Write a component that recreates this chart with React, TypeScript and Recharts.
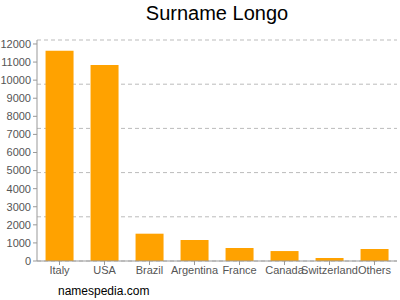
import { Bar, BarChart, CartesianGrid, XAxis, YAxis } from "recharts"

const countries = ["Italy", "USA", "Brazil", "Argentina", "France", "Canada", "Switzerland", "Others"]
const counts = [11630, 10840, 1510, 1160, 720, 550, 165, 665]
const yTicks = [0, 1000, 2000, 3000, 4000, 5000, 6000, 7000, 8000, 9000, 10000, 11000, 12000]
const GRID_LINES = 5
const Y_MAX = 12220

const data = countries.map((name, i) => ({ name, count: counts[i] }))

const font = "'Liberation Sans', Arial, sans-serif"

// gridlines split the plot height evenly, independent of the value ticks
function gridRows({ offset }: { offset: { top: number; height: number } }) {
  const rows: number[] = []
  for (let i = 0; i <= GRID_LINES; i++) rows.push(offset.top + (offset.height * i) / GRID_LINES)
  return rows
}

export default function App() {
  return (
    <div style={{ position: "absolute", left: 0, top: 0, width: 400, height: 300, background: "#fff", fontFamily: font }}>
      <div style={{ position: "absolute", top: 2, left: 37, width: 360, textAlign: "center", fontSize: 20, color: "#000" }}>
        Surname Longo
      </div>
      <BarChart width={400} height={300} data={data} margin={{ top: 40, right: 3, bottom: 9, left: 0 }} barCategoryGap="19%">
        <CartesianGrid
          vertical={false}
          stroke="#bbb"
          strokeDasharray="4 3"
          horizontalCoordinatesGenerator={gridRows}
        />
        <XAxis
          dataKey="name"
          interval={0}
          height={30}
          tick={{ fontSize: 11, fill: "#555", fontFamily: font }}
          stroke="#999"
          tickSize={4}
          tickMargin={1}
        />
        <YAxis
          domain={[0, Y_MAX]}
          ticks={yTicks}
          width={37}
          interval={0}
          tick={{ fontSize: 11, fill: "#555", fontFamily: font }}
          stroke="#999"
          tickSize={4}
          tickMargin={2}
        />
        <Bar dataKey="count" fill="#ffa200" isAnimationActive={false} />
      </BarChart>
      <div style={{ position: "absolute", top: 284, left: 58, fontSize: 12, color: "#000" }}>namespedia.com</div>
    </div>
  )
}
